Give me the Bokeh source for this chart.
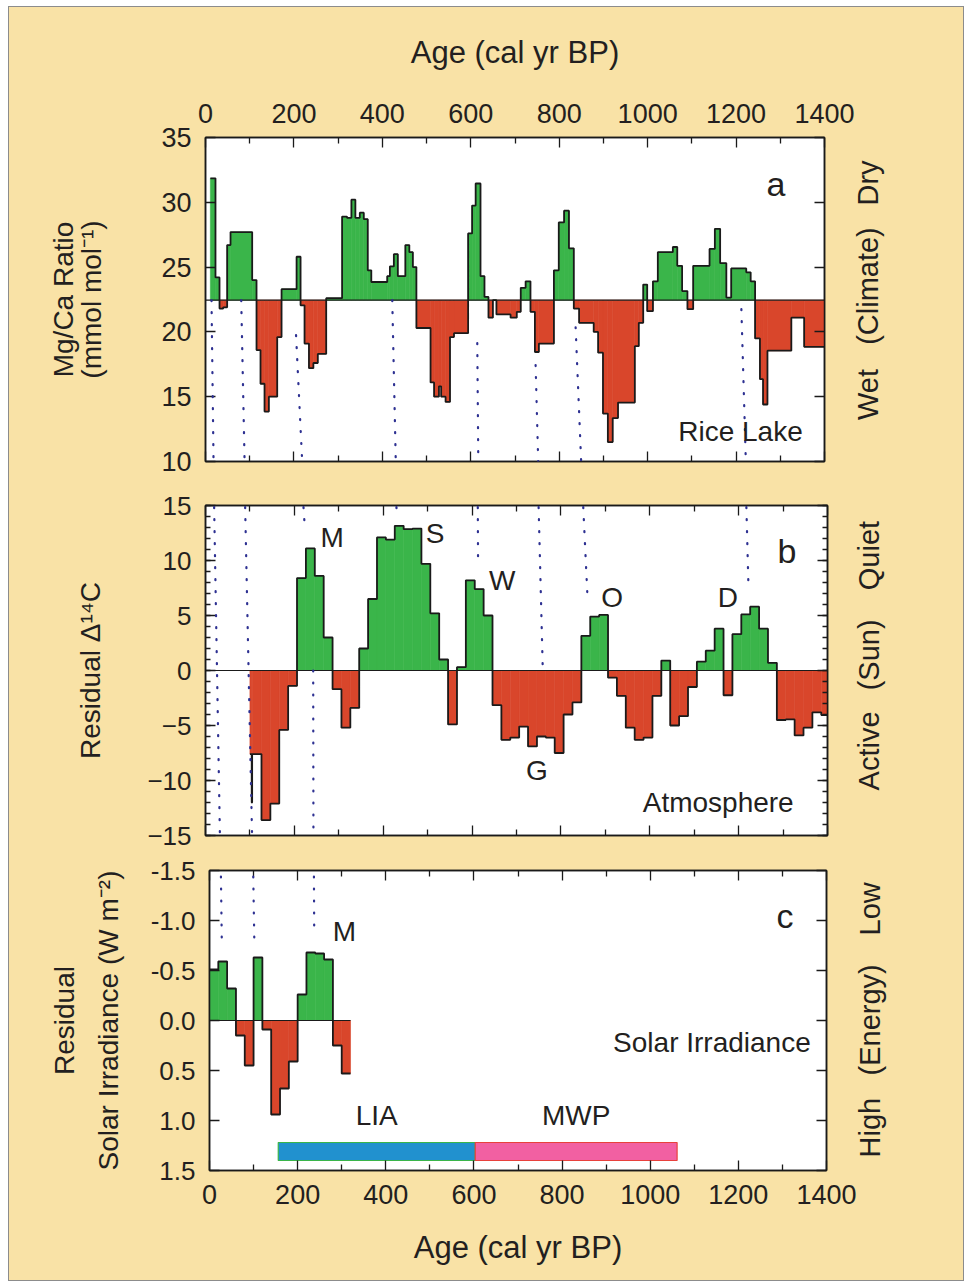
import math
from bokeh.plotting import figure
from bokeh.models import (Range1d, LinearAxis, FixedTicker, Label, ColumnDataSource,
                          Arrow, Span)
from bokeh.layouts import column
from bokeh.embed import file_html
from bokeh.resources import INLINE

# ---------------- data ----------------
# Panel a: Rice Lake Mg/Ca ratio (mmol/mol), step series
a_edges = [11, 22.6, 31.7, 40, 49, 56.6, 105.6, 115.4, 124.4, 133.5, 143.3, 162.2, 172, 206, 215,
           224, 234, 244, 254, 273, 309, 320, 330, 339, 349, 358, 367, 375, 411, 417, 426, 435,
           452, 461, 469, 477, 509, 517, 528, 533, 543, 553, 562, 594, 603, 611, 622, 631, 640,
           650, 658, 690, 704, 713, 724, 735, 745, 754, 788, 799, 811, 822, 833, 845, 878, 888,
           899, 910, 921, 933, 971, 980, 990, 999, 1012, 1023, 1057, 1067, 1078, 1090, 1103,
           1140, 1152, 1164, 1178, 1189, 1223, 1233, 1243, 1254, 1261, 1271, 1325, 1354, 1400]
a_values = [31.85, 24.2, 21.8, 21.9, 26.7, 27.7, 24.0, 18.6, 16.0, 13.85,
            15.0, 19.6, 23.3, 25.8, 22.05, 19.1, 17.2, 17.6, 18.3, 22.6,
            28.9, 28.8, 30.2, 28.8, 29.2, 28.7, 24.75, 23.85, 24.3, 25.05,
            26.0, 24.3, 26.7, 26.15, 25.0, 20.3, 16.1, 15.0, 15.8, 15.0,
            14.6, 19.6, 19.9, 27.6, 29.75, 31.45, 24.3, 22.7, 21.1, 22.45,
            21.35, 21.1, 21.55, 23.4, 23.9, 21.55, 18.45, 19.1, 24.75, 28.45,
            29.35, 26.45, 21.8, 20.7, 20.0, 18.4, 13.7, 11.5, 13.35, 14.55,
            18.9, 20.7, 23.65, 21.6, 23.9, 26.15, 26.55, 25.1, 23.15, 21.75,
            25.1, 26.4, 27.95, 25.3, 22.65, 24.9, 24.6, 23.9, 19.5, 16.35,
            14.4, 18.55, 21.1, 18.85]
a_base = 22.45

# Panel b: residual delta 14C
b_edges = [100, 104, 105, 126, 146, 166, 186, 206, 226, 246, 266, 286, 306, 326, 346, 366, 386,
           406, 426, 446, 466, 486, 506, 526, 546, 566, 586, 606, 626, 646, 666, 686, 706, 726,
           746, 766, 786, 806, 826, 846, 866, 886, 906, 926, 946, 966, 986, 1006, 1026, 1046,
           1066, 1086, 1106, 1126, 1146, 1166, 1186, 1206, 1226, 1246, 1266, 1286, 1306, 1326,
           1346, 1366, 1386, 1400]
b_values = [-7.6, -12.0, -7.6, -13.6, -12.1, -5.4, -1.4, 8.4, 11.1, 8.6,
            3.0, -1.7, -5.2, -3.4, 2.0, 6.5, 12.1, 11.9, 13.15, 12.85,
            12.9, 9.7, 5.2, 1.0, -4.9, 0.3, 8.2, 7.4, 5.0, -3.15,
            -6.3, -6.1, -5.1, -6.9, -6.0, -6.1, -7.5, -4.0, -2.9, 3.15,
            4.9, 5.05, -0.65, -2.3, -5.2, -6.3, -6.1, -2.3, 0.9, -5.0,
            -4.15, -1.5, 0.8, 1.8, 3.8, -2.25, 3.3, 5.1, 5.8, 3.8,
            0.7, -4.5, -4.45, -5.9, -5.2, -3.8, -4.05]

# Panel c: residual solar irradiance (W m-2)
c_edges = [0, 20, 40, 60, 80, 100, 120, 140, 160, 180, 200, 220, 240, 260, 280, 300, 320]
c_values = [-0.51, -0.59, -0.32, 0.15, 0.45, -0.63, 0.09, 0.94, 0.68, 0.41,
            -0.26, -0.68, -0.67, -0.61, 0.25, 0.53]

# Climate periods
periods = ["LIA", "MWP"]
period_start = [156, 603]
period_end = [603, 1061]
period_fill = ["#2191CF", "#F260A2"]
period_edge = ["#3AB54A", "#E8413C"]

# Side captions (value where each caption starts, text)
a_side = {29.75: "Dry", 19.0: "(Climate)", 13.2: "Wet"}
b_side = {7.3: "Quiet", -1.8: "(Sun)", -10.9: "Active"}
c_side = {-0.85: "Low", 0.55: "(Energy)", 1.37: "High"}

# Correlation (dotted) lines, per panel, data coordinates
dots_a = dict(x0=[13.6, 80.8, 204.8, 422.4, 614.7, 746.6, 837.1, 1212.0],
              y0=[22.45, 22.45, 19.75, 22.45, 19.13, 17.44, 20.36, 21.75],
              x1=[18.8, 89.4, 221.0, 431.4, 617.4, 753.8, 851.6, 1223.5],
              y1=[8.36, 8.36, 8.36, 8.36, 8.36, 8.36, 8.36, 8.36])
dots_b = dict(x0=[18.5, 88.1, 217.1, 242.4, 427.7, 612.6, 748.4, 847.7, 1216.0],
              y0=[17.03, 17.03, 17.03, 0.0, 17.03, 17.03, 17.03, 17.03, 17.03],
              x1=[33.1, 105.6, 223.9, 243.0, 430.4, 613.5, 759.2, 859.7, 1222.3],
              y1=[-16.52, -16.52, 12.75, -16.52, 14.2, 9.66, 0.0, 6.75, 7.3])
dots_c = dict(x0=[25.2, 98.4, 236.7],
              y0=[-1.68, -1.68, -1.68],
              x1=[27.9, 101.6, 237.6],
              y1=[-0.80, -0.82, -0.87])

x_ticks = [0, 200, 400, 600, 800, 1000, 1200, 1400]
x_minor = [100, 300, 500, 700, 900, 1100, 1300]
a_ticks = [10, 15, 20, 25, 30, 35]
b_ticks = [-15, -10, -5, 0, 5, 10, 15]
b_minor = list(range(-15, 16))
c_ticks = [-1.5, -1.0, -0.5, 0.0, 0.5, 1.0, 1.5]

# ---------------- style ----------------
BEIGE = "#F9E2A6"
INK = "#231F20"
LINE = "#1a1a1a"
GREEN = "#3AB54A"
RED = "#D9462B"
DOT = "#2E3192"
FONT = "Liberation Sans"


def make_fig(fw, fh, left, right, top, bottom, yr):
    p = figure(frame_width=fw, frame_height=fh, x_range=Range1d(0, 1400), y_range=yr,
               x_axis_location=None, y_axis_location=None,
               min_border_left=left, min_border_right=right, min_border_top=top,
               min_border_bottom=bottom, output_backend="svg", toolbar_location=None,
               background_fill_color="white", border_fill_color=BEIGE,
               outline_line_color=LINE, outline_line_width=1.5)
    p.grid.visible = False
    return p


def axis(p, side, ticks, minor=None, labels=False, size="26px", standoff=12, fmt=None):
    ax = LinearAxis(ticker=FixedTicker(ticks=ticks, minor_ticks=minor or []))
    ax.axis_line_color = LINE
    ax.axis_line_width = 1.5
    ax.major_tick_line_color = LINE
    ax.minor_tick_line_color = LINE
    ax.major_tick_line_width = 1.3
    ax.minor_tick_line_width = 1.3
    ax.major_tick_in = 10
    ax.major_tick_out = 0
    ax.minor_tick_in = 6 if side in ("above", "below") else 5
    ax.minor_tick_out = 0
    ax.major_label_text_font = FONT
    ax.major_label_text_color = INK
    ax.axis_label_text_font = FONT
    ax.axis_label_text_font_style = "normal"
    ax.axis_label_text_color = INK
    if labels:
        ax.major_label_text_font_size = size
        ax.major_label_standoff = standoff
    else:
        ax.major_label_text_font_size = "0px"
        ax.major_label_text_color = None
        ax.major_label_standoff = 0
    if fmt is not None:
        ax.major_label_overrides = fmt
    p.add_layout(ax, side)
    return ax


def label_axis(p, side, text, size="28px", standoff=0):
    ax = LinearAxis(ticker=FixedTicker(ticks=[]), axis_line_color=None,
                    major_tick_line_color=None, minor_tick_line_color=None,
                    major_label_text_font_size="0px", major_label_text_color=None,
                    major_label_standoff=0,
                    axis_label=text, axis_label_text_font=FONT,
                    axis_label_text_font_style="normal", axis_label_text_color=INK,
                    axis_label_text_font_size=size, axis_label_standoff=standoff)
    p.add_layout(ax, side)
    return ax


def side_captions(p, caps, standoff):
    ax = LinearAxis(ticker=FixedTicker(ticks=list(caps.keys())), axis_line_color=None,
                    major_tick_line_color=None, minor_tick_line_color=None,
                    major_tick_in=0, major_tick_out=0,
                    major_label_overrides=dict(caps),
                    major_label_orientation=math.pi / 2,
                    major_label_text_font=FONT, major_label_text_font_size="29px",
                    major_label_text_color=INK, major_label_standoff=standoff)
    p.add_layout(ax, "right")
    return ax


def steps(p, edges, vals, base, up_is_green=True):
    left = edges[:-1]
    right = edges[1:]
    bottom = [min(base, v) for v in vals]
    top = [max(base, v) for v in vals]
    colors = [(GREEN if (v >= base) == up_is_green else RED) for v in vals]
    src = ColumnDataSource(dict(left=left, right=right, bottom=bottom, top=top, color=colors))
    p.quad(left="left", right="right", bottom="bottom", top="top", fill_color="color",
           line_color="color", line_width=0.6, source=src)


def outline(p, edges, vals):
    p.step(x=edges, y=list(vals) + [vals[-1]], mode="after", line_color=LINE, line_width=1.8)


def dotted(p, d):
    src = ColumnDataSource(d)
    p.add_layout(Arrow(end=None, x_start="x0", y_start="y0", x_end="x1", y_end="y1",
                       source=src, line_color=DOT, line_width=2.2, line_dash="1 11",
                       line_cap="round"))


def txt(p, x, y, s, size="28px"):
    p.add_layout(Label(x=x, y=y, text=s, text_font=FONT, text_font_size=size,
                       text_color=INK, text_align="center", text_baseline="middle"))


# ---------------- panel a ----------------
pa = make_fig(619, 324, 196, 139, 130, 22, Range1d(10, 35))
top = axis(pa, "above", x_ticks, x_minor, labels=True, size="27px", standoff=15)
top.axis_label = "Age (cal yr BP)"
top.axis_label_text_font_size = "31px"
top.axis_label_standoff = 31
axis(pa, "below", x_ticks, x_minor)
la = axis(pa, "left", a_ticks, labels=True, size="27px", standoff=14)
la.axis_label = "(mmol mol\u207b\u00b9)"
la.axis_label_text_font_size = "28px"
la.axis_label_standoff = 51
label_axis(pa, "left", "Mg/Ca Ratio", standoff=-5)
axis(pa, "right", a_ticks)
side_captions(pa, a_side, 44)

steps(pa, a_edges, a_values, a_base, up_is_green=True)
pa.add_layout(Span(location=a_base, dimension="width", line_color=LINE, line_width=1.2))
outline(pa, a_edges, a_values)
dotted(pa, dots_a)
txt(pa, 1290, 31.4, "a", size="34px")
txt(pa, 1210, 12.3, "Rice Lake")

# ---------------- panel b ----------------
pb = make_fig(622, 330, 196, 136, 22, 17, Range1d(-15, 15))
axis(pb, "above", x_ticks, x_minor)
axis(pb, "below", x_ticks, x_minor)
lb = axis(pb, "left", b_ticks, b_minor, labels=True, size="26px", standoff=14)
lb.axis_label = "Residual \u0394\u00b9\u2074C"
lb.axis_label_text_font_size = "28px"
lb.axis_label_standoff = 38
axis(pb, "right", b_ticks, b_minor)
side_captions(pb, b_side, 42)

steps(pb, b_edges, b_values, 0.0, up_is_green=True)
pb.add_layout(Span(location=0, dimension="width", line_color=LINE, line_width=1.2))
outline(pb, b_edges, b_values)
dotted(pb, dots_b)
txt(pb, 1309, 10.9, "b", size="34px")
txt(pb, 1154, -12.0, "Atmosphere")
for s, x, y in [("M", 285, 12.1), ("S", 517, 12.5), ("W", 668, 8.2),
                ("O", 915, 6.66), ("D", 1176, 6.66), ("G", 746, -9.05)]:
    txt(pb, x, y, s)

# ---------------- panel c ----------------
pc = make_fig(617, 300, 196, 137, 18, 110, Range1d(1.5, -1.5))
axis(pc, "above", x_ticks, x_minor)
bot = axis(pc, "below", x_ticks, x_minor, labels=True, size="27px", standoff=14)
bot.axis_label = "Age (cal yr BP)"
bot.axis_label_text_font_size = "31px"
bot.axis_label_standoff = 23
lc = axis(pc, "left", c_ticks, labels=True, size="26px", standoff=14,
          fmt={t: "%.1f" % t for t in c_ticks})
lc.axis_label = "Solar Irradiance (W m\u207b\u00b2)"
lc.axis_label_text_font_size = "28px"
lc.axis_label_standoff = 24
label_axis(pc, "left", "Residual", standoff=10)
axis(pc, "right", c_ticks)
side_captions(pc, c_side, 43)

steps(pc, c_edges, c_values, 0.0, up_is_green=False)
pc.line(x=[c_edges[0], c_edges[-1]], y=[0, 0], line_color=LINE, line_width=1.2)
outline(pc, c_edges, c_values)
dotted(pc, dots_c)
pc.quad(left=period_start, right=period_end, bottom=1.22, top=1.40,
        fill_color=period_fill, line_color=period_edge, line_width=1.2)
for name, s, e in zip(periods, period_start, period_end):
    txt(pc, (s + e) / 2, 0.95, name)
txt(pc, 1306, -1.05, "c", size="34px")
txt(pc, 1140, 0.22, "Solar Irradiance")
txt(pc, 306, -0.89, "M")

inner_c = column(pc, margin=(0, 0, 0, 4))
layout = column(pa, pb, inner_c, margin=(7, 0, 0, 9),
                styles={"outline": "1px solid #8c8c8c", "background-color": BEIGE})
open("out.html", "w").write(file_html(layout, INLINE))
